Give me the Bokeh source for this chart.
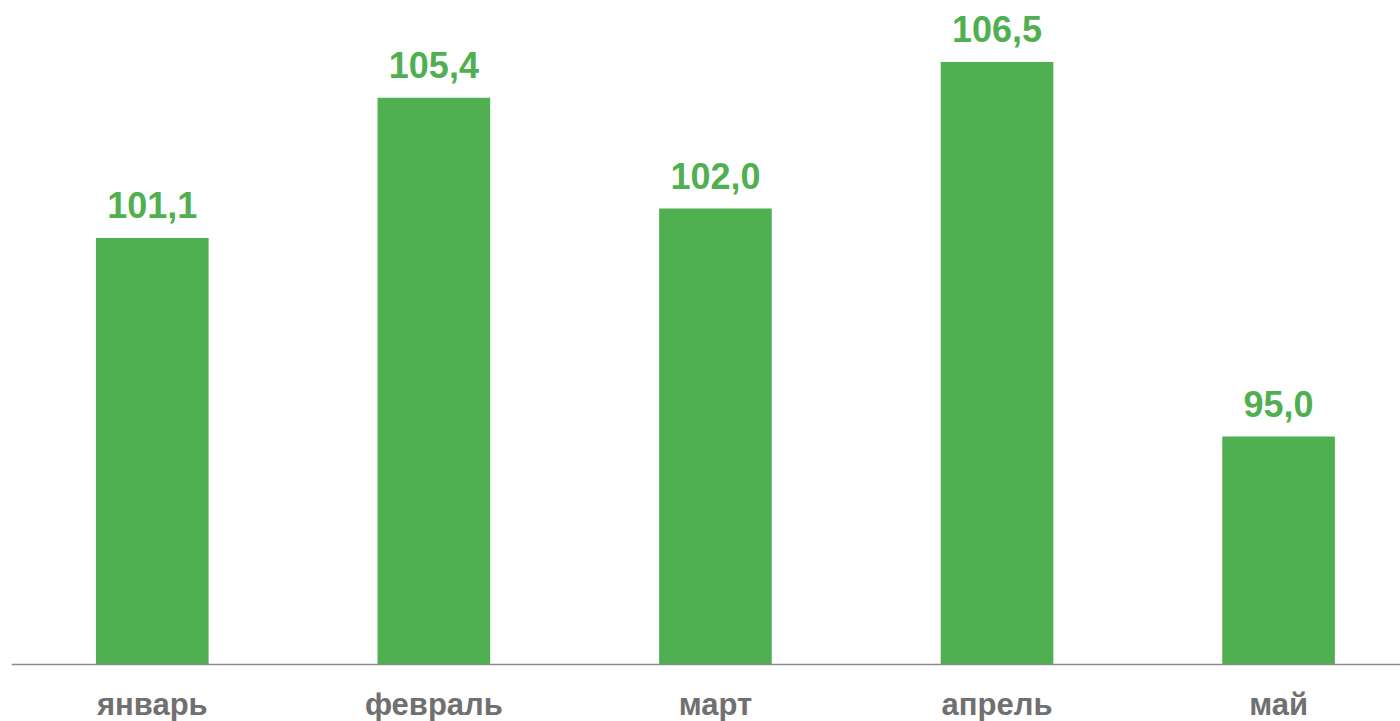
from bokeh.plotting import figure
from bokeh.models import Range1d, ColumnDataSource, LabelSet, Span
from bokeh.core.properties import value
from bokeh.embed import file_html
from bokeh.resources import INLINE

months = ["январь", "февраль", "март", "апрель", "май"]
values = [101.1, 105.4, 102.0, 106.5, 95.0]
labels = ["101,1", "105,4", "102,0", "106,5", "95,0"]

GREEN = "#50AF50"
GREY = "#707070"
BASE = 88

xs = [i + 0.5 for i in range(len(months))]
src = ColumnDataSource(dict(x=xs, top=values, lab=labels, base=[BASE] * len(xs), month=months))

p = figure(width=1400, height=721, output_backend="svg", toolbar_location=None,
           x_range=Range1d(0, 4.933), y_range=Range1d(86.25, 108.39),
           min_border_left=11, min_border_right=0, min_border_top=0, min_border_bottom=0)
p.vbar(x="x", top="top", bottom=BASE, width=0.4, source=src, color=GREEN, line_color=None)

# baseline (category axis line)
p.add_layout(Span(location=BASE, dimension="width", line_color="#8c8c8c", line_width=1.5))

p.add_layout(LabelSet(x="x", y="top", text="lab", source=src, y_offset=20,
                      text_align="center", text_baseline="alphabetic",
                      text_font=value("Liberation Sans"), text_font_style="bold",
                      text_font_size="36px", text_color=GREEN))

# month category labels under the baseline
p.add_layout(LabelSet(x="x", y="base", text="month", source=src, y_offset=-50,
                      text_align="center", text_baseline="alphabetic",
                      text_font=value("Liberation Sans"), text_font_style="bold",
                      text_font_size="31px", text_color=GREY))

p.xaxis.visible = False
p.yaxis.visible = False
p.xgrid.visible = False
p.ygrid.visible = False
p.outline_line_color = None

open("out.html", "w").write(file_html(p, INLINE))
